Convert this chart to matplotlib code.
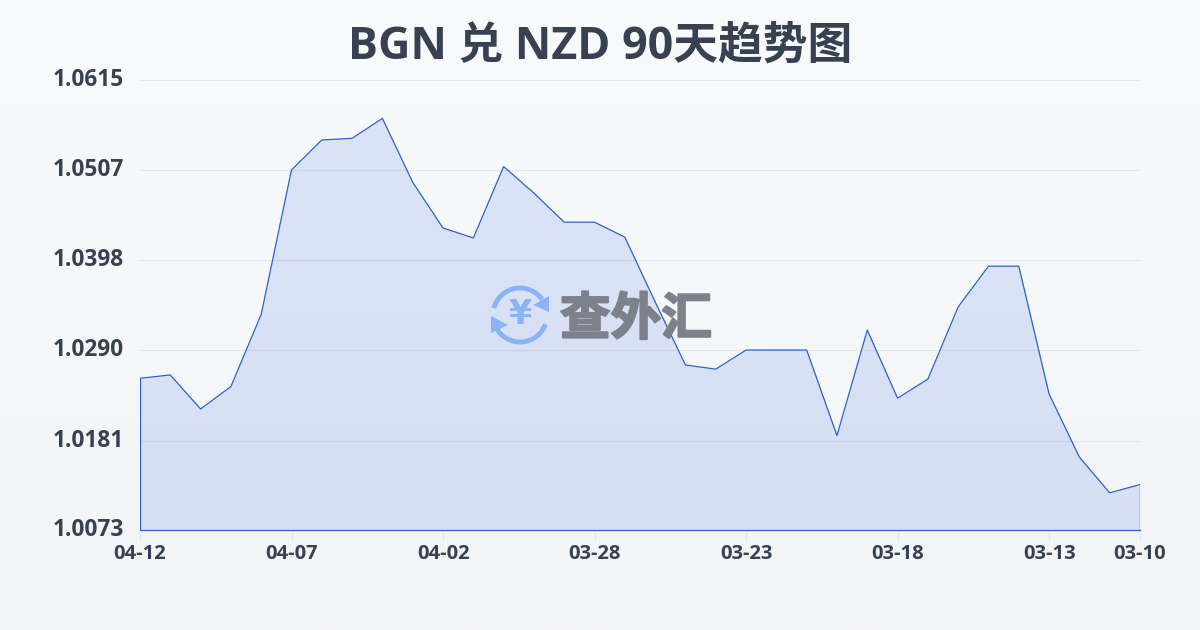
import numpy as np
import matplotlib
matplotlib.use('Agg')
import matplotlib.pyplot as plt
import matplotlib.patheffects as pe
from matplotlib.patches import Arc, Polygon

plt.rcParams['font.family'] = ['Open Sans', 'Noto Sans CJK SC', 'DejaVu Sans']

values = [1.0256, 1.0260, 1.0219, 1.0246, 1.0333, 1.0507, 1.0543, 1.0545, 1.0569,
          1.0492, 1.0437, 1.0425, 1.0511, 1.0479, 1.0444, 1.0444, 1.0426, 1.0348,
          1.0272, 1.0267, 1.0290, 1.0290, 1.0290, 1.0187, 1.0314, 1.0232, 1.0255,
          1.0342, 1.0391, 1.0391, 1.0237, 1.0161, 1.0118, 1.0128]
tick_idx = [0, 5, 10, 15, 20, 25, 30, 33]
tick_labels = ['04-12', '04-07', '04-02', '03-28', '03-23', '03-18', '03-13', '03-10']
y_ticks = [1.0073, 1.0181, 1.0290, 1.0398, 1.0507, 1.0615]
title = 'BGN 兑 NZD 90天趋势图'

dark = '#374151'
line = '#2b62c9'

fig = plt.figure(figsize=(12, 6.3), dpi=100)

# page background
bg = fig.add_axes([0, 0, 1, 1], zorder=0)
bg.imshow(np.linspace(0, 1, 256).reshape(-1, 1), aspect='auto', extent=(0, 1200, 630, 0),
          cmap=matplotlib.colors.LinearSegmentedColormap.from_list('bg', ['#f9fafc', '#f3f4f6']))
bg.set_xlim(0, 1200)
bg.set_ylim(630, 0)
bg.axis('off')

ax = fig.add_axes([140 / 1200, 1 - 530.2 / 630, 1000 / 1200, 450 / 630], zorder=1)
ax.patch.set_alpha(0)
x = np.arange(len(values))
ax.fill_between(x, values, y_ticks[0], color='#2f66e6', alpha=0.15, lw=0, zorder=2)
ax.plot(x, values, color=line, lw=0.9, zorder=3)
ax.plot([0, 0], [y_ticks[0], values[0]], color=line, lw=0.9, zorder=3)
ax.plot([33, 33], [y_ticks[0], values[-1]], color=line, lw=0.9, zorder=3)
ax.set_xlim(0, 33)
ax.set_ylim(y_ticks[0], y_ticks[-1])
ax.grid(axis='y', color='#e3e6ea', lw=0.8, zorder=1)
for s in ['top', 'left', 'right']:
    ax.spines[s].set_visible(False)
ax.spines['bottom'].set_color(line)
ax.spines['bottom'].set_linewidth(0.9)
ax.set_xticks(tick_idx)
ax.set_xticklabels(tick_labels, fontsize=14.5, fontweight='bold', color=dark)
ax.tick_params(axis='x', length=8, width=0.8, color='#e3e6ea', pad=2)
ax.set_yticks(y_ticks)
ax.set_yticklabels(['%.4f' % v for v in y_ticks], fontsize=16.3, fontweight='bold', color=dark)
ax.tick_params(axis='y', length=0, pad=11.5)
for lb in ax.get_yticklabels():
    lb.set_verticalalignment('center')

fig.text(0.5, 1 - 47 / 630, title, ha='center', va='center', fontsize=32.2,
         fontweight='bold', color=dark)

# watermark
wm = fig.add_axes([0, 0, 1, 1], zorder=3)
wm.set_xlim(0, 1200)
wm.set_ylim(630, 0)
wm.axis('off')
icon = '#8ab4f8'
cx, cy = 520, 315
wm.add_patch(Arc((cx, cy), 54, 54, theta1=195, theta2=325, color=icon, lw=3.5))
wm.add_patch(Arc((cx, cy), 54, 54, theta1=20, theta2=150, color=icon, lw=3.5))
wm.add_patch(Polygon([(549, 296), (549, 312), (533, 305)], color=icon, lw=0))
wm.add_patch(Polygon([(491, 316), (491, 333), (508, 325)], color=icon, lw=0))
wm.text(cx, cy - 1, '¥', fontsize=24, fontweight='bold', color=icon, ha='center', va='center',
        family='DejaVu Sans')
wm.text(636, 320, '查外汇', fontsize=36.5, fontweight='bold', color='#7d818b',
        ha='center', va='center', family='Noto Sans CJK SC',
        path_effects=[pe.withStroke(linewidth=1.5, foreground='#7d818b')])

fig.savefig('out.png', dpi=100)
